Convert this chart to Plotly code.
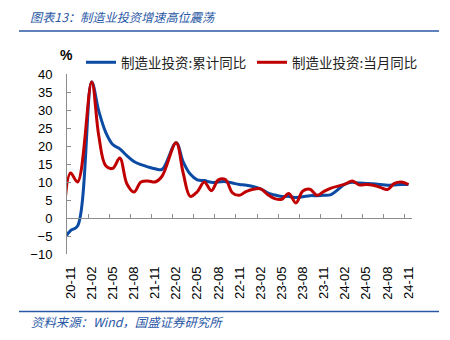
import plotly.graph_objects as go

# ---------------- data ----------------
months = ["20-10", "20-11", "20-12",
          "21-01", "21-02", "21-03", "21-04", "21-05", "21-06", "21-07", "21-08", "21-09", "21-10", "21-11", "21-12",
          "22-01", "22-02", "22-03", "22-04", "22-05", "22-06", "22-07", "22-08", "22-09", "22-10", "22-11", "22-12",
          "23-01", "23-02", "23-03", "23-04", "23-05", "23-06", "23-07", "23-08", "23-09", "23-10", "23-11", "23-12",
          "24-01", "24-02", "24-03", "24-04", "24-05", "24-06", "24-07", "24-08", "24-09", "24-10", "24-11"]

cumulative_yoy = [-6.0, -3.5, -2.2,
                  None, 37.8, 29.8, 23.8, 20.4, 19.2, 17.3, 15.7, 14.8, 14.2, 13.7, 13.5,
                  None, 20.9, 15.6, 12.2, 10.6, 10.4, 9.9, 10.0, 10.1, 9.7, 9.3, 9.1,
                  None, 8.1, 7.0, 6.4, 6.0, 6.0, 5.7, 5.9, 6.2, 6.2, 6.3, 6.5,
                  None, 9.4, 9.9, 9.7, 9.6, 9.5, 9.3, 9.1, 9.2, 9.3, 9.3]

monthly_yoy = [-3.0, 12.5, 10.0,
               None, 37.8, 23.0, 14.5, 13.8, 16.7, 9.5, 7.2, 10.0, 10.3, 10.0, 11.6,
               None, 20.9, 12.5, 6.0, 7.3, 10.0, 7.6, 10.6, 10.7, 7.0, 6.3, 7.4,
               None, 8.1, 6.5, 5.4, 5.2, 6.8, 4.2, 7.5, 8.0, 6.3, 7.4, 8.3,
               None, 9.4, 10.3, 9.2, 9.3, 9.1, 8.5, 7.9, 9.6, 10.0, 9.3]

series_names = ["制造业投资:累计同比", "制造业投资:当月同比"]
y_ticks = [-10, -5, 0, 5, 10, 15, 20, 25, 30, 35, 40]

title_text = "图表13：制造业投资增速高位震荡"
source_text = "资料来源：Wind，国盛证券研究所"

# ---------------- layout helpers ----------------
W, H = 450, 340
L, R, T, B = 67, 38, 74, 86
PW, PH = W - L - R, H - T - B


def px(xp):
    return (xp - L) / PW


def py(yp):
    return (H - B - yp) / PH


BLUE = "#0B4BA3"
RED = "#C00000"
HEAD = "#2A58A6"
CJK = "Noto Sans CJK SC"
LAT = "Liberation Sans"

fig = go.Figure()
fig.add_trace(go.Scatter(x=months, y=cumulative_yoy, name=series_names[0], mode="lines",
                         line=dict(color=BLUE, width=3, shape="spline", smoothing=1.0),
                         connectgaps=True, hoverinfo="skip", legend="legend"))
fig.add_trace(go.Scatter(x=months, y=monthly_yoy, name=series_names[1], mode="lines",
                         line=dict(color=RED, width=3, shape="spline", smoothing=1.0),
                         connectgaps=True, hoverinfo="skip", legend="legend2"))
# helper trace so the zero-crossing axis knows the categories
fig.add_trace(go.Scatter(x=months, y=[None] * len(months), xaxis="x2", mode="lines",
                         showlegend=False, hoverinfo="skip"))

xrange = [0.5, len(months) - 0.5]
legend_style = dict(orientation="h", xanchor="left", yanchor="middle",
                    font=dict(family=CJK, size=13.5, color="#222222"),
                    bgcolor="rgba(0,0,0,0)", borderwidth=0)

fig.update_layout(
    width=W, height=H,
    margin=dict(l=L, r=R, t=T, b=B),
    paper_bgcolor="white", plot_bgcolor="white",
    showlegend=True,
    legend=dict(x=px(81), y=py(62.5), **legend_style),
    legend2=dict(x=px(252), y=py(62.5), **legend_style),
    xaxis=dict(type="category", categoryorder="array", categoryarray=months,
               range=xrange, tickmode="linear", tick0=1, dtick=3,
               tickangle=-90, showline=False, ticks="", showgrid=False, zeroline=False,
               tickfont=dict(family=LAT, size=13, color="#000000"),
               ticklabelstandoff=9),
    xaxis2=dict(type="category", categoryorder="array", categoryarray=months,
                overlaying="x", anchor="free", position=0.2, side="bottom",
                range=xrange, tickmode="linear", tick0=1, dtick=3, tickson="boundaries",
                ticks="inside", ticklen=4, tickcolor="#8C8C8C", tickwidth=1,
                showline=True, linecolor="#8C8C8C", linewidth=1,
                showticklabels=False, showgrid=False, zeroline=False),
    yaxis=dict(range=[-10, 40], tickmode="array", tickvals=y_ticks,
               showline=True, linecolor="#8C8C8C", linewidth=1,
               ticks="inside", ticklen=4, tickcolor="#8C8C8C",
               showgrid=False, zeroline=False,
               tickfont=dict(family=LAT, size=13, color="#000000"),
               ticklabelstandoff=11),
)

fig.add_annotation(x=px(66), y=py(55), xref="paper", yref="paper", text="<b>%</b>",
                   showarrow=False, xanchor="center", yanchor="middle",
                   font=dict(family=LAT, size=14, color="#000000"))
fig.add_annotation(x=px(28), y=py(17), xref="paper", yref="paper",
                   text="<i>" + title_text + "</i>", showarrow=False,
                   xanchor="left", yanchor="middle",
                   font=dict(family=CJK, size=12.2, color=HEAD))
fig.add_annotation(x=px(29), y=py(322), xref="paper", yref="paper",
                   text="<i>" + source_text + "</i>", showarrow=False,
                   xanchor="left", yanchor="middle",
                   font=dict(family=CJK, size=12.4, color=HEAD))

fig.add_shape(type="line", xref="paper", yref="paper", x0=px(19), x1=px(439), y0=py(31), y1=py(31),
              line=dict(color=HEAD, width=1.5))
fig.add_shape(type="line", xref="paper", yref="paper", x0=px(19), x1=px(439), y0=py(311.5), y1=py(311.5),
              line=dict(color=HEAD, width=1.5))

fig.write_html("out.html")
